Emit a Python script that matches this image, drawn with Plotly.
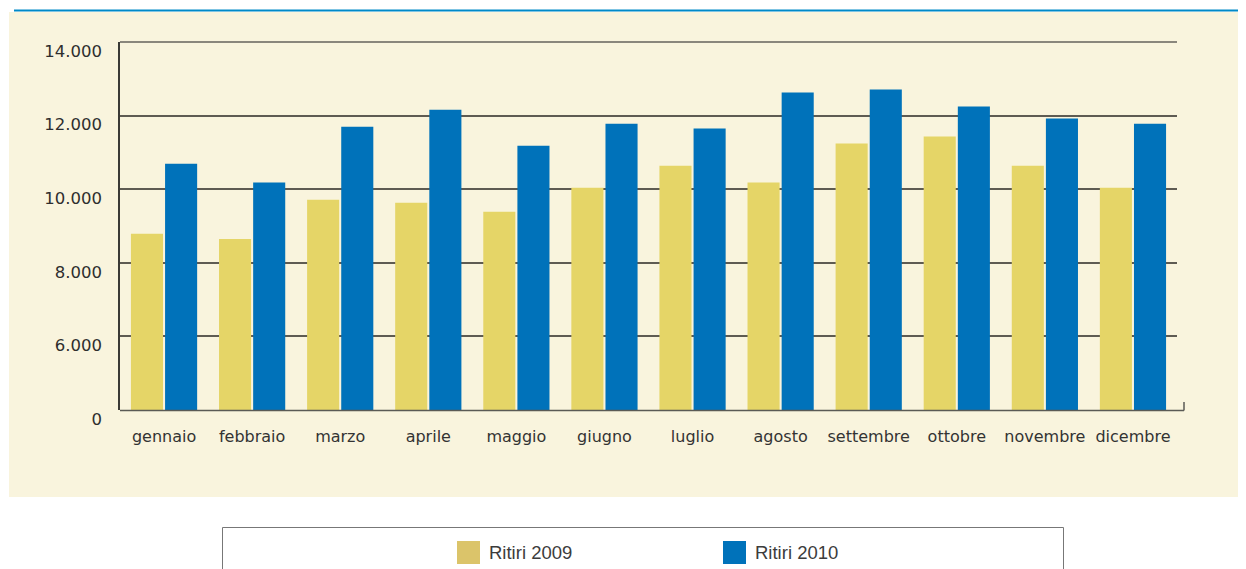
import plotly.graph_objects as go

months = ["gennaio", "febbraio", "marzo", "aprile", "maggio", "giugno",
          "luglio", "agosto", "settembre", "ottobre", "novembre", "dicembre"]
ritiri_2009 = [8790, 8650, 9710, 9630, 9390, 10040, 10640, 10180, 11240, 11430, 10640, 10040]
ritiri_2010 = [10690, 10180, 11700, 12160, 11180, 11780, 11650, 12630, 12710, 12250, 11920, 11780]
tick_vals = [4000, 6000, 8000, 10000, 12000, 14000]
tick_text = ["0", "6.000", "8.000", "10.000", "12.000", "14.000"]
series_names = ["Ritiri 2009", "Ritiri 2010"]

OFF = 8  # page body margin
W, H = 1246 - OFF, 569 - OFF
L, R, T, B = 120, 1177, 42, 410  # plot area in window pixels


def px(x):
    return (x - L) / (R - L)


def py(y):
    return (B - y) / (B - T)


fig = go.Figure()
fig.add_trace(go.Bar(x=months, y=ritiri_2009, name=series_names[0],
                     marker=dict(color="#e5d567", line=dict(width=0))))
fig.add_trace(go.Bar(x=months, y=ritiri_2010, name=series_names[1],
                     marker=dict(color="#0072ba", line=dict(width=0))))

shapes = [
    # cream panel
    dict(type="rect", xref="paper", yref="paper", x0=px(9), x1=px(1250), y0=py(497), y1=py(12),
         fillcolor="#f9f4dd", line=dict(width=0), layer="below"),
    # top blue rule
    dict(type="line", xref="paper", yref="paper", x0=px(14), x1=px(1250), y0=py(10.5), y1=py(10.5),
         line=dict(color="#0089c8", width=2)),
    # top gridline of plot frame
    dict(type="line", xref="paper", yref="paper", x0=0, x1=1, y0=1, y1=1,
         line=dict(color="#8a877c", width=2)),
    # extended x axis line
    dict(type="line", xref="paper", yref="paper", x0=px(120), x1=px(1184), y0=py(410.5), y1=py(410.5),
         line=dict(color="#5a5a55", width=1.5)),
    dict(type="line", xref="paper", yref="paper", x0=px(1184), x1=px(1184), y0=py(410.5), y1=py(402),
         line=dict(color="#5a5a55", width=1.5)),
    # legend box
    dict(type="rect", xref="paper", yref="paper", x0=px(222.5), x1=px(1063.5), y0=py(580), y1=py(527.5),
         fillcolor="white", line=dict(color="#777777", width=1)),
    # legend swatches
    dict(type="rect", xref="paper", yref="paper", x0=px(457), x1=px(480), y0=py(564), y1=py(541),
         fillcolor="#dbc46a", line=dict(width=0)),
    dict(type="rect", xref="paper", yref="paper", x0=px(723), x1=px(746), y0=py(564), y1=py(541),
         fillcolor="#0072ba", line=dict(width=0)),
]

legend_font = dict(family="Liberation Sans Narrow, Arial Narrow, Liberation Sans, sans-serif",
                   size=18.5, color="#3c3c3c")
annotations = [
    dict(xref="paper", yref="paper", x=px(487), y=py(552), text=series_names[0], showarrow=False,
         xanchor="left", yanchor="middle", font=legend_font),
    dict(xref="paper", yref="paper", x=px(753), y=py(552), text=series_names[1], showarrow=False,
         xanchor="left", yanchor="middle", font=legend_font),
]

fig.update_layout(
    width=W, height=H,
    margin=dict(l=L - OFF, r=W - (R - OFF), t=T - OFF, b=H - (B - OFF), pad=0),
    paper_bgcolor="white",
    plot_bgcolor="rgba(0,0,0,0)",
    barmode="group",
    bargap=0.225,
    bargroupgap=0.06,
    showlegend=False,
    shapes=shapes,
    annotations=annotations,
    font=dict(family="DejaVu Sans, sans-serif", size=15, color="#333333"),
)
fig.update_xaxes(
    showgrid=False, showline=False, ticks="", zeroline=False,
    tickfont=dict(family="DejaVu Sans, sans-serif", size=16, color="#333333"),
    ticklabelstandoff=15,
)
fig.update_yaxes(
    range=[4000, 14000], tickvals=tick_vals, ticktext=tick_text,
    showgrid=True, gridcolor="#5e5b52", gridwidth=1.5,
    showline=True, linecolor="#3a3a36", linewidth=1.5,
    zeroline=False, ticks="",
    ticklabelshift=9, ticklabelstandoff=13,
    tickfont=dict(family="DejaVu Sans, sans-serif", size=16.5, color="#2e2e2e"),
)

fig.write_html("out.html")
